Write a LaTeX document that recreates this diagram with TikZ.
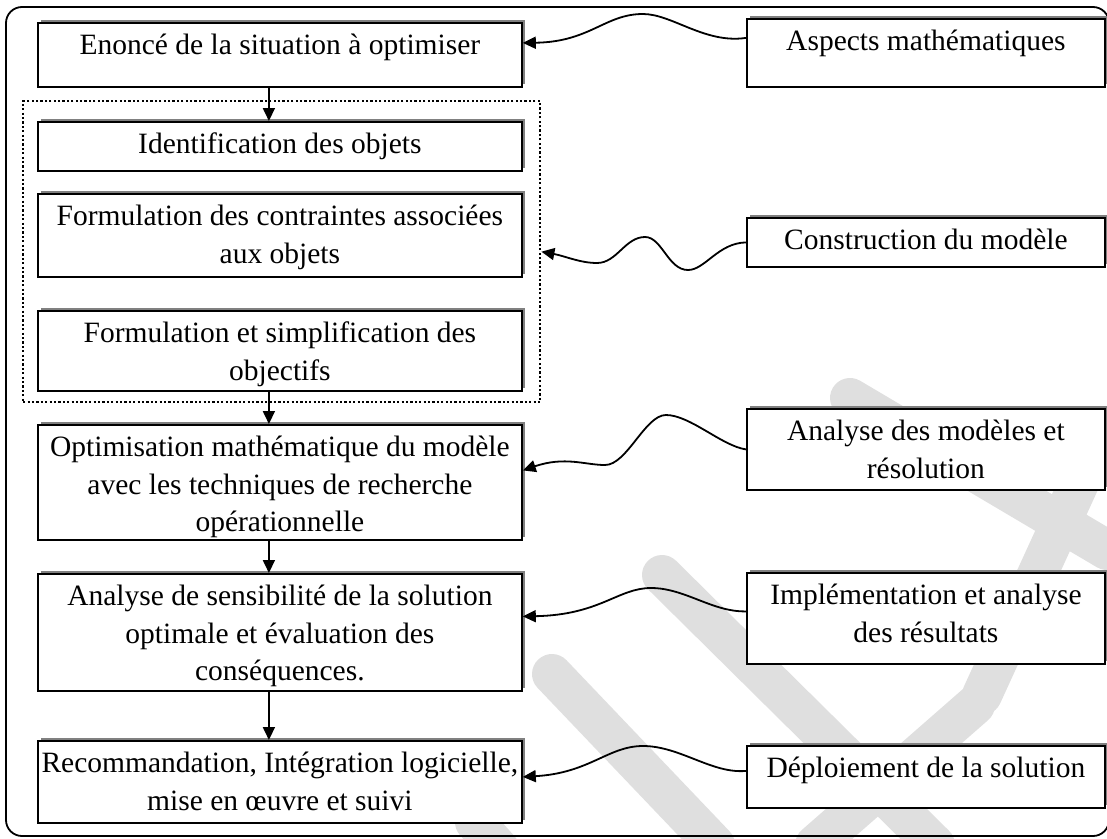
\documentclass[tikz,border=0pt]{standalone}
\usepackage{fontspec}
\setmainfont{Liberation Serif}
\usetikzlibrary{arrows.meta,shadows}
\newcommand{\fs}{\fontsize{29.5}{37.5}\selectfont}
\newcommand{\boxtxt}[3]{\parbox[t][#1][t]{#2}{\fs\centering\rule{0pt}{32pt}#3}}

\begin{document}
\begin{tikzpicture}[x=1pt,y=-1pt,
    stepbox/.style={draw,line width=1.8pt,fill=white,inner sep=0pt,anchor=north west,
      general shadow={shadow xshift=2.8pt,shadow yshift=2.8pt,fill=gray}},
    grp/.style={draw,line width=2.4pt,dash pattern=on 2.2pt off 2.2pt,
      inner sep=0pt,anchor=north west},
    arr/.style={line width=1.8pt,-{Triangle[length=13pt,width=12pt]}},
    wave/.style={line width=1.8pt,-{Triangle[length=13pt,width=12pt]}},
    wmark/.style={line width=40pt,line cap=round,gray!25}]
  \useasboundingbox (0,0) rectangle (1107,838);
  \clip (0,0) rectangle (1107,838);
  % watermark
  \draw[wmark] (850,398) -- (1107,550);
  \draw[wmark] (982,695) -- (1085,470);
  \draw[wmark] (662,575) -- (935,845);
  \draw[wmark] (552,674) -- (715,845);
  \draw[wmark] (975,705) -- (815,845);
  \draw[wmark] (475,822) -- (500,850);
  % frame
  \draw[line width=1.8pt,rounded corners=16pt] (6,7) rectangle (1109,836);
  % left column
  \node[stepbox] (enonce) at (37,22) {\boxtxt{64pt}{484pt}{Enoncé de la situation à optimiser}};
  \node[grp,minimum width=517pt,minimum height=301pt] (modele) at (22,100) {};
  \node[stepbox] (ident) at (37,121) {\boxtxt{49pt}{484pt}{Identification des objets}};
  \node[stepbox] (contr) at (37,193) {\boxtxt{83pt}{484pt}{Formulation des contraintes associées\\aux objets}};
  \node[stepbox] (formul) at (37,310) {\boxtxt{80pt}{484pt}{Formulation et simplification des\\objectifs}};
  \node[stepbox] (optim) at (37,424) {\boxtxt{115pt}{484pt}{Optimisation mathématique du modèle\\avec les techniques de recherche\\opérationnelle}};
  \node[stepbox] (sensib) at (37,573) {\boxtxt{117pt}{484pt}{Analyse de sensibilité de la solution\\optimale et évaluation des\\conséquences.}};
  \node[stepbox] (recomm) at (37,740) {\boxtxt{82pt}{484pt}{Recommandation, Intégration logicielle,\\mise en œuvre et suivi}};
  % right column
  \node[stepbox] (aspects) at (746,18) {\boxtxt{68pt}{358pt}{Aspects mathématiques}};
  \node[stepbox] (constr) at (746,217) {\boxtxt{49pt}{358pt}{Construction du modèle}};
  \node[stepbox] (analyse) at (746,408) {\boxtxt{81pt}{358pt}{Analyse des modèles et\\résolution}};
  \node[stepbox] (implem) at (746,572) {\boxtxt{91pt}{358pt}{Implémentation et analyse\\des résultats}};
  \node[stepbox] (deploi) at (746,745) {\boxtxt{62pt}{358pt}{Déploiement de la solution}};
  % flow
  \draw[arr] ([xshift=-11pt]enonce.south) -- ([xshift=-11pt]ident.north);
  \draw[arr] ([xshift=-11pt]formul.south) -- ([xshift=-11pt]optim.north);
  \draw[arr] ([xshift=-11pt]optim.south) -- ([xshift=-11pt]sensib.north);
  \draw[arr] ([xshift=-11pt]sensib.south) -- ([xshift=-11pt]recomm.north);
  % wavy links
  \draw[wave] ([yshift=15pt]aspects.west) .. controls (705,44) and (672,14) .. (643,14)
    .. controls (605,14) and (590,42) .. ([yshift=12pt]enonce.east);
  \draw[wave] (constr.west) .. controls (718,243) and (705,270) .. (688,270)
    .. controls (668,270) and (662,237) .. (645,237)
    .. controls (625,237) and (617,263) .. (597,263)
    .. controls (580,263) and (565,256) .. (modele.east);
  \draw[wave] (analyse.west) .. controls (722,446) and (690,415) .. (666,415)
    .. controls (645,415) and (627,465) .. (605,465)
    .. controls (585,465) and (565,456) .. ([yshift=12pt]optim.east);
  \draw[wave] ([yshift=7pt]implem.west) .. controls (712,612) and (685,588) .. (651,588)
    .. controls (618,588) and (600,615) .. ([yshift=16pt]sensib.east);
  \draw[wave] ([yshift=6pt]deploi.west) .. controls (712,774) and (680,746) .. (643,746)
    .. controls (608,746) and (590,773) .. ([yshift=5pt]recomm.east);
\end{tikzpicture}
\end{document}
